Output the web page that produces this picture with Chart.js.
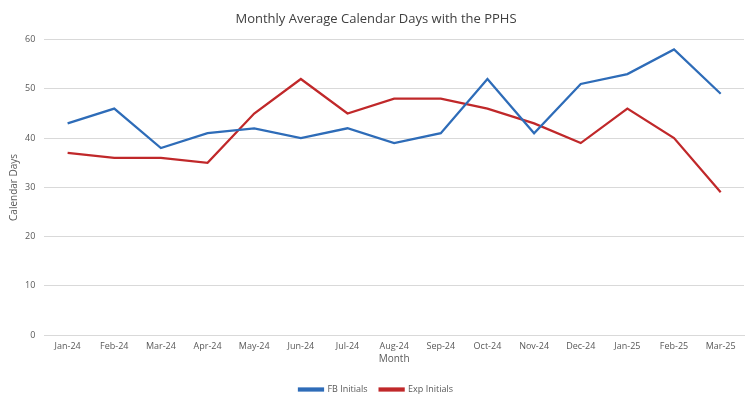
<!DOCTYPE html>
<html>
<head>
<meta charset="utf-8">
<script src="https://cdn.jsdelivr.net/npm/chart.js@4"></script>
<style>
  html, body { margin: 0; padding: 0; background: #fff; }
  #wrap { width: 750px; height: 400px; }
</style>
</head>
<body>
<div id="wrap"><canvas id="daysChart" width="750" height="400"></canvas></div>
<script>
const months = ['Jan-24', 'Feb-24', 'Mar-24', 'Apr-24', 'May-24', 'Jun-24', 'Jul-24', 'Aug-24',
  'Sep-24', 'Oct-24', 'Nov-24', 'Dec-24', 'Jan-25', 'Feb-25', 'Mar-25'];
const fbInitials = [43, 46, 38, 41, 42, 40, 42, 39, 41, 52, 41, 51, 53, 58, 49];
const expInitials = [37, 36, 36, 35, 45, 52, 45, 48, 48, 46, 43, 39, 46, 40, 29];

const fontFamily = '"Open Sans", "Liberation Sans", sans-serif';

const ctx = document.getElementById('daysChart').getContext('2d');
new Chart(ctx, {
  type: 'line',
  data: {
    labels: months,
    datasets: [
      {
        label: 'FB Initials',
        data: fbInitials,
        borderColor: '#2e6cb8',
        backgroundColor: '#2e6cb8',
        borderWidth: 2.25,
        pointRadius: 0,
        tension: 0,
        fill: false,
      },
      {
        label: 'Exp Initials',
        data: expInitials,
        borderColor: '#c0282a',
        backgroundColor: '#c0282a',
        borderWidth: 2.25,
        pointRadius: 0,
        tension: 0,
        fill: false,
      },
    ],
  },
  options: {
    responsive: false,
    animation: false,
    layout: { padding: { left: 8, right: 6, top: 6, bottom: -4 } },
    plugins: {
      title: {
        display: true,
        text: 'Monthly Average Calendar Days with the PPHS',
        color: '#404040',
        font: { family: fontFamily, size: 13, weight: 'normal' },
        padding: { top: 5, bottom: 13 },
      },
      legend: {
        position: 'bottom',
        labels: {
          color: '#595959',
          font: { family: fontFamily, size: 9 },
          boxWidth: 24,
          boxHeight: 2,
          padding: 12,
        },
      },
      tooltip: { enabled: false },
    },
    scales: {
      x: {
        offset: true,
        grid: { display: false, drawTicks: false },
        border: { display: true, color: '#d9d9d9' },
        ticks: { color: '#595959', font: { family: fontFamily, size: 9 }, maxRotation: 0, padding: 6 },
        title: { display: true, text: 'Month', color: '#595959', font: { family: fontFamily, size: 10 }, padding: { top: -5, bottom: 8 } },
      },
      y: {
        min: 0,
        max: 60,
        ticks: { stepSize: 10, color: '#595959', font: { family: fontFamily, size: 9 }, padding: 9 },
        grid: { color: '#d9d9d9', drawTicks: false },
        border: { display: false },
        title: { display: true, text: 'Calendar Days', color: '#595959', font: { family: fontFamily, size: 10 }, padding: { top: 0, bottom: -4 } },
      },
    },
  },
});
</script>
</body>
</html>
